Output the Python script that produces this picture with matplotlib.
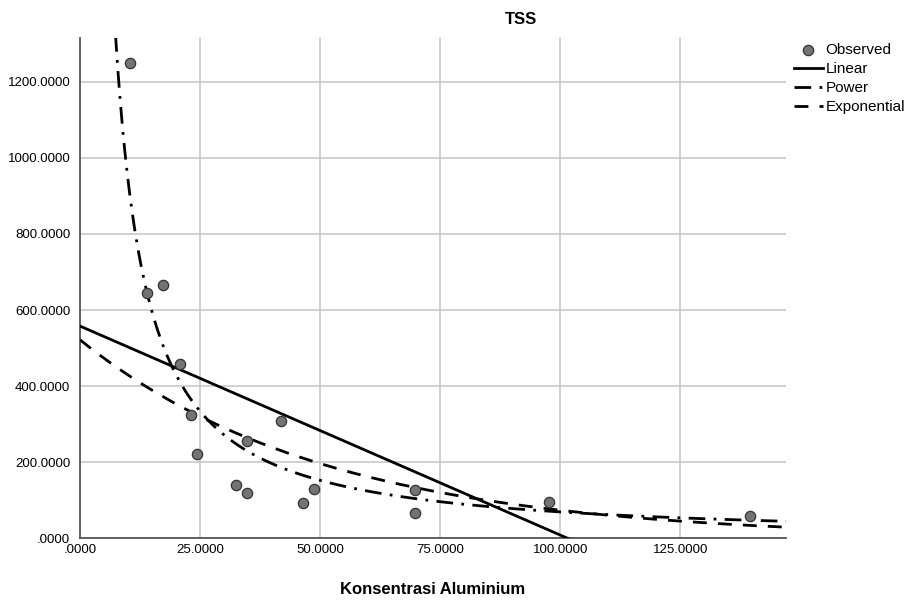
import numpy as np
import matplotlib
matplotlib.use('Agg')
import matplotlib.pyplot as plt
from matplotlib.ticker import FuncFormatter

plt.rcParams['font.family'] = ['Liberation Sans', 'DejaVu Sans']

# observed points
alu = [10.4, 13.9, 17.3, 20.8, 23.1, 24.4, 32.5, 34.8, 34.8, 41.9,
       46.5, 48.75, 69.8, 69.8, 97.7, 139.6]
tss = [1250, 646, 666, 459, 325, 223, 141, 120, 257, 309,
       94, 131, 128, 68, 97, 60]

# fitted model coefficients (estimated from the curves)
lin_b0, lin_b1 = 558.0, -5.49
pow_a, pow_b = 12700.0, -1.13
exp_a, exp_b = 522.0, -0.0195

xmax = 147
ymax = 1315

def fmt(v, pos):
    s = '%.4f' % v
    if s.startswith('0.'):
        s = s[1:]
    return s

fig = plt.figure(figsize=(9.15, 6.01), dpi=100)
ax = fig.add_axes([0.0874, 0.104, 0.7716, 0.833])

xs = np.linspace(0.01, xmax, 600)
lin_y = lin_b0 + lin_b1 * xs
pow_y = pow_a * xs ** pow_b
exp_y = exp_a * np.exp(exp_b * xs)

ax.scatter(alu, tss, s=55, color='#737373', edgecolor='#333333', linewidth=0.9,
           zorder=4, label='Observed')
ax.plot(xs, lin_y, color='black', lw=2, label='Linear', zorder=3)
ax.plot(xs, pow_y, color='black', lw=2, dashes=(6, 3, 1, 3), label='Power', zorder=3)
ax.plot(xs, exp_y, color='black', lw=2, dashes=(5, 4), label='Exponential', zorder=3)

ax.set_xlim(0, xmax)
ax.set_ylim(0, ymax)
ax.set_xticks([0, 25, 50, 75, 100, 125])
ax.set_yticks([0, 200, 400, 600, 800, 1000, 1200])
ax.xaxis.set_major_formatter(FuncFormatter(fmt))
ax.yaxis.set_major_formatter(FuncFormatter(fmt))
ax.tick_params(length=0, labelsize=9.5)
ax.tick_params(axis='y', pad=7)
ax.tick_params(axis='x', pad=4)
ax.grid(True, color='#c8c8c8', lw=1.2)
ax.set_axisbelow(True)
for sp in ['top', 'right']:
    ax.spines[sp].set_visible(False)
for sp in ['left', 'bottom']:
    ax.spines[sp].set_color('#555555')
    ax.spines[sp].set_linewidth(1.3)

fig.text(521 / 915, 1 - 20 / 601, 'TSS', ha='center', va='center',
         fontsize=12, fontweight='bold')
fig.text(433 / 915, 1 - 590 / 601, 'Konsentrasi Aluminium', ha='center',
         va='center', fontsize=12, fontweight='bold')

leg = ax.legend(loc='upper left', bbox_to_anchor=(1.0, 1.005), frameon=False,
                fontsize=11, handlelength=1.9, handletextpad=0.2,
                labelspacing=0.33, borderaxespad=0.1)

fig.savefig('out.png', dpi=100)
